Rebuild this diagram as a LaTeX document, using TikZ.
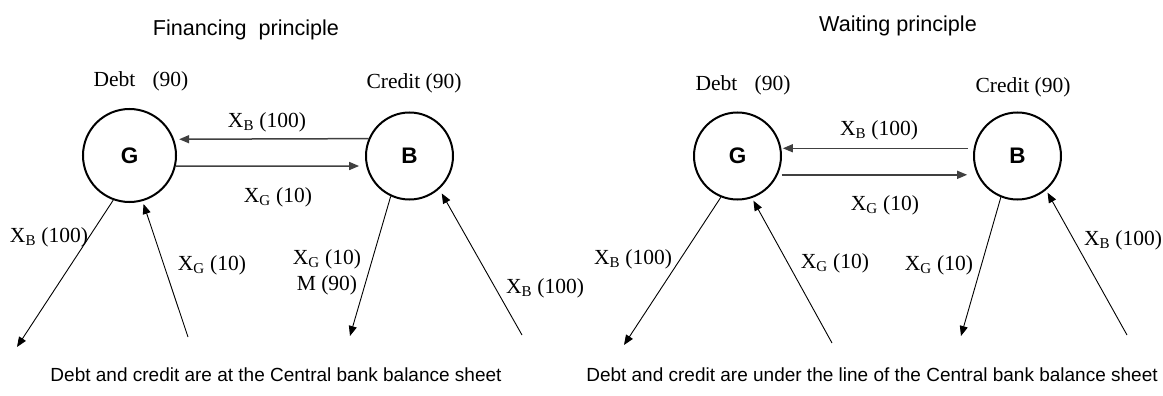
\documentclass[tikz,border=0pt]{standalone}
\usepackage{fontspec}
\setmainfont{Liberation Serif}
\newfontfamily\arialfont{Liberation Sans}
\usetikzlibrary{shapes,arrows.meta}

\begin{document}
\begin{tikzpicture}[x=1pt,y=-1pt,
  agent/.style={draw,circle,line width=2pt,inner sep=0pt,font=\arialfont\bfseries\fontsize{22.5}{24}\selectfont},
  flow/.style={-{Triangle[length=10pt,width=8pt]},line width=0.9pt},
  pay/.style={-{Triangle[length=10pt,width=8pt]},line width=1.5pt,draw=black!75,fill=black},
  lab/.style={draw=none,inner sep=0pt,align=center,font=\fontsize{21.5}{26}\selectfont},
  head/.style={draw=none,inner sep=0pt,font=\arialfont\fontsize{21.6}{24}\selectfont},
  foot/.style={draw=none,inner sep=0pt,font=\arialfont\fontsize{19}{22}\selectfont}]

\useasboundingbox (0,0) rectangle (1163,396);

% financing principle
\node[head] (t1) at (246,30) {Financing\ \ principle};
\node[agent,minimum size=93pt] (G1) at (129.5,155.5) {G};
\node[agent,minimum size=87pt] (B1) at (409.5,156) {B};
\node[lab] (d1) at (141,81) {Debt\hspace{0.8em}(90)};
\node[lab] (c1) at (414,83) {Credit (90)};

\coordinate (g1out) at (17,347);
\coordinate (g1in) at (188,337);
\coordinate (b1out) at (350,336);
\coordinate (b1in) at (522,335);

\draw[pay,shorten >=5pt] (B1.157) -- (G1.20);
\draw[pay,shorten >=7pt] (G1.-13) -- (B1.-167);
\draw[flow] (G1.-110) -- (g1out);
\draw[flow,shorten >=3pt] (g1in) -- (G1.-74);
\draw[flow] (B1.-115) -- (b1out);
\draw[flow,shorten >=5pt] (b1in) -- (B1.-48);

\node[lab] (l1) at (267,122) {X\textsubscript{B} (100)};
\node[lab] (l2) at (278,197) {X\textsubscript{G} (10)};
\node[lab] (l3) at (49,237) {X\textsubscript{B} (100)};
\node[lab] (l4) at (212,265) {X\textsubscript{G} (10)};
\node[lab] (l5) at (327,272) {X\textsubscript{G} (10)\\M (90)};
\node[lab] (l6) at (545,288) {X\textsubscript{B} (100)};
\node[foot] (f1) at (276,375) {Debt and credit are at the Central bank balance sheet};

% waiting principle
\node[head] (t2) at (898,26) {Waiting principle};
\node[agent,minimum size=87pt] (G2) at (737.5,156) {G};
\node[agent,minimum size=87pt] (B2) at (1017.5,156) {B};
\node[lab] (d2) at (743,85) {Debt\hspace{0.8em}(90)};
\node[lab] (c2) at (1023,87) {Credit (90)};

\coordinate (g2out) at (624,345);
\coordinate (g2in) at (832,343);
\coordinate (b2out) at (961,336);
\coordinate (b2in) at (1127,335);

\draw[pay,shorten <=6pt,shorten >=1.5pt] (B2.170) -- (G2.10);
\draw[pay,shorten <=4pt,shorten >=10pt] (G2.-25) -- (B2.-155);
\draw[flow] (G2.-112) -- (g2out);
\draw[flow,shorten >=3pt] (g2in) -- (G2.-71);
\draw[flow] (B2.-112) -- (b2out);
\draw[flow,shorten >=3pt] (b2in) -- (B2.-50);

\node[lab] (m1) at (879,130) {X\textsubscript{B} (100)};
\node[lab] (m2) at (885,205) {X\textsubscript{G} (10)};
\node[lab] (m3) at (633,259) {X\textsubscript{B} (100)};
\node[lab] (m4) at (835,263) {X\textsubscript{G} (10)};
\node[lab] (m5) at (939,265) {X\textsubscript{G} (10)};
\node[lab] (m6) at (1123,240) {X\textsubscript{B} (100)};
\node[foot] (f2) at (872,375) {Debt and credit are under the line of the Central bank balance sheet};

\end{tikzpicture}
\end{document}
